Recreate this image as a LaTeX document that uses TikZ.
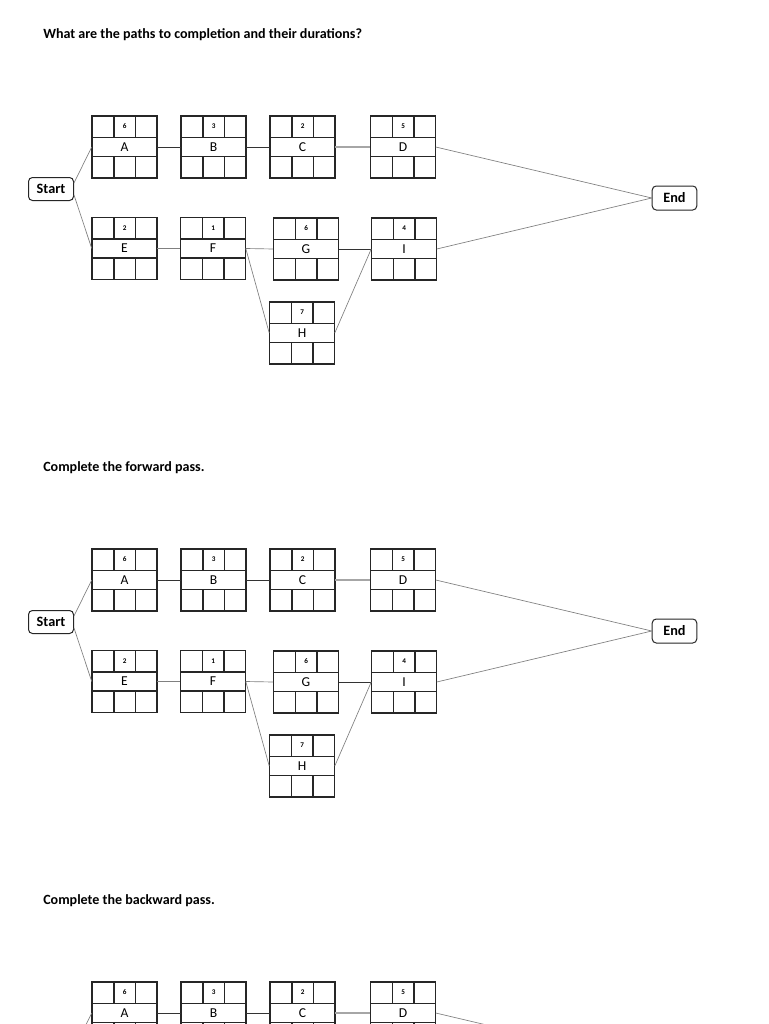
\documentclass[tikz,border=0pt]{standalone}
\usepackage{fontspec}
\setmainfont{Carlito}
\usetikzlibrary{calc}
\tikzset{
  boxline/.style={draw=black!85, line width=0.95pt},
  numtext/.style={font=\fontsize{5.4}{6}\selectfont\bfseries, inner sep=0pt},
  midcell/.style={font=\fontsize{10.2}{12}\selectfont, inner sep=0pt,
     minimum width=48.75pt, minimum height=14.25pt},
  termnode/.style={draw=black!85, line width=0.75pt, rounded corners=3pt,
     font=\fontsize{10.7}{12}\selectfont\bfseries, inner sep=0pt},
  titletext/.style={anchor=west, inner sep=0pt, font=\fontsize{10.55}{12}\selectfont\bfseries},
  darkcon/.style={draw=black!80, line width=0.7pt},
  graycon/.style={draw=black!50, line width=0.5pt},
  lightcon/.style={draw=black!35, line width=0.8pt},
  pics/actbox/.style 2 args={code={
    \draw[boxline] (0,0) rectangle (65,62);
    \draw[boxline] (0,21.5) -- (65,21.5) (0,40.5) -- (65,40.5);
    \draw[boxline] (22,0) -- (22,21.5) (43.5,0) -- (43.5,21.5)
                   (22,40.5) -- (22,62) (43.5,40.5) -- (43.5,62);
    \node[numtext] (-d) at (32.75,10.5) {#1};
    \node[midcell] (-m) at (32.5,31) {#2};
  }}
}
\begin{document}
\begin{tikzpicture}[x=0.75pt, y=-0.75pt]
\useasboundingbox (0,0) rectangle (768,1024);
\clip (0,0) rectangle (768,1024);
\fill[white] (0,0) rectangle (768,1024);

\node[titletext] (t1) at (43,35) {What are the paths to completion and their durations?};
\node[titletext] (t2) at (43,468) {Complete the forward pass.};
\node[titletext] (t3) at (43,901) {Complete the backward pass.};

% two complete networks
\foreach \k/\o in {a/0,b/433}{
  \begin{scope}[yshift={-0.75pt*\o}]
    \pic (A\k) at (92,116) {actbox={6}{A}};
    \pic (B\k) at (181,116) {actbox={3}{B}};
    \pic (C\k) at (270,116) {actbox={2}{C}};
    \pic (D\k) at (370.5,116) {actbox={5}{D}};
    \pic (E\k) at (92,217.5) {actbox={2}{E}};
    \pic (F\k) at (180.5,217.5) {actbox={1}{F}};
    \pic (G\k) at (273.5,218) {actbox={6}{G}};
    \pic (I\k) at (371.5,218) {actbox={4}{I}};
    \pic (H\k) at (269.5,302) {actbox={7}{H}};
    \node[termnode, minimum width=33.75pt, minimum height=17.25pt] (S\k) at (51,189) {Start};
    \node[termnode, minimum width=33.4pt, minimum height=18pt] (N\k) at (674.5,198) {End};
    \draw[graycon] ($(S\k.east)+(0,-6)$) -- (A\k-m.west);
    \draw[graycon] ($(S\k.east)+(0,6)$) -- (E\k-m.west);
    \draw[darkcon] (A\k-m.east) -- (B\k-m.west);
    \draw[darkcon] (B\k-m.east) -- (C\k-m.west);
    \draw[lightcon] (C\k-m.east) -- (D\k-m.west);
    \draw[graycon] (D\k-m.east) -- (N\k.west);
    \draw[graycon] (E\k-m.east) -- (F\k-m.west);
    \draw[graycon] (F\k-m.east) -- (G\k-m.west);
    \draw[darkcon] (G\k-m.east) -- (I\k-m.west);
    \draw[graycon] (F\k-m.east) -- (H\k-m.west);
    \draw[graycon] (H\k-m.east) -- (I\k-m.west);
    \draw[graycon] (I\k-m.east) -- (N\k.west);
  \end{scope}
}

% third network, cut by the page edge
\begin{scope}[yshift={-0.75pt*866}]
  \pic (Ac) at (92,116) {actbox={6}{A}};
  \pic (Bc) at (181,116) {actbox={3}{B}};
  \pic (Cc) at (270,116) {actbox={2}{C}};
  \pic (Dc) at (370.5,116) {actbox={5}{D}};
  \coordinate (Sc) at (74,183);
  \coordinate (Nc) at (652.25,198);
  \draw[graycon] (Sc) -- (Ac-m.west);
  \draw[darkcon] (Ac-m.east) -- (Bc-m.west);
  \draw[darkcon] (Bc-m.east) -- (Cc-m.west);
  \draw[lightcon] (Cc-m.east) -- (Dc-m.west);
  \draw[graycon] (Dc-m.east) -- (Nc);
\end{scope}
\end{tikzpicture}
\end{document}
